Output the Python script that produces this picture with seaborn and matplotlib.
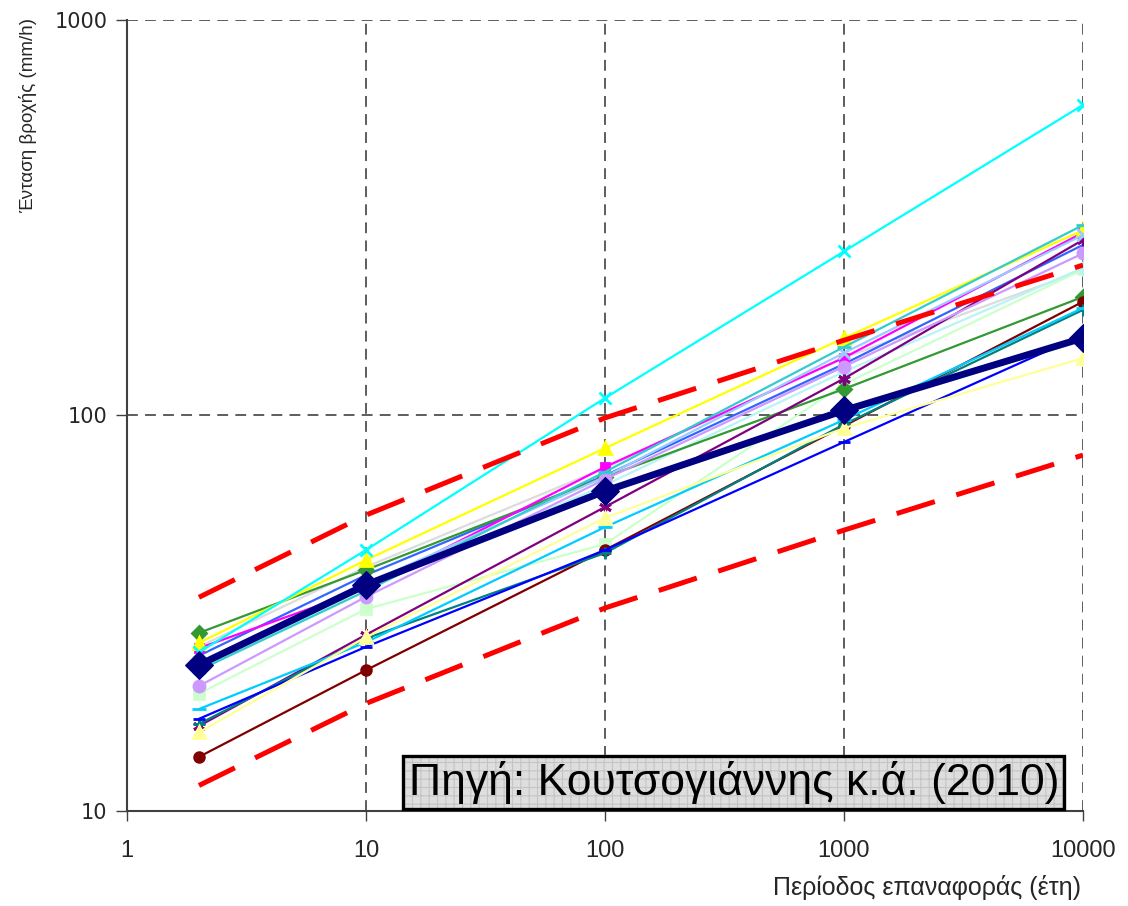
"""Rainfall intensity vs. return period, log-log, with mean and bounds."""

import matplotlib

matplotlib.use("Agg")
import matplotlib.pyplot as plt
import pandas as pd
import seaborn as sns

# Return periods (years) at which each station curve was read
return_periods = [2, 10, 100, 1000, 10000]

# Station curves (mm/h)
st_green = [28.2, 40.7, 69.9, 116.7, 199.5]
st_magenta = [25.8, 36.5, 74.1, 140.0, 290.0]
st_yellow = [26.6, 43.1, 82.7, 157.0, 294.0]
st_cyan = [25.2, 45.7, 110.7, 260.0, 610.0]
st_purple = [16.4, 27.9, 58.7, 124.0, 278.0]
st_maroon = [13.7, 22.7, 45.7, 94.1, 194.0]
st_teal = [16.6, 27.3, 44.9, 95.0, 185.0]
st_blue = [17.1, 26.0, 45.7, 85.7, 160.0]
st_skyblue = [18.1, 26.7, 52.2, 97.5, 187.0]
st_lightcyan = [22.7, 36.6, 66.7, 129.0, 236.0]
st_lightgreen = [19.8, 32.4, 47.3, 120.0, 234.0]
st_lightyellow = [15.8, 27.5, 55.1, 92.9, 139.7]
st_paleblue = [23.0, 37.5, 70.0, 144.0, 286.0]
st_lavender = [20.7, 34.8, 69.0, 133.0, 257.0]
st_aqua = [22.7, 36.0, 72.0, 149.0, 303.0]
st_lightgray = [26.0, 41.4, 73.7, 140.0, 233.0]
st_royalblue = [24.7, 39.5, 70.5, 135.0, 270.0]

# Mean curve and upper / lower bounds
mean_curve = [23.4, 37.3, 64.4, 103.0, 157.0]
upper_bound = [34.7, 56.0, 98.6, 155.0, 240.0]
lower_bound = [11.6, 18.7, 32.6, 51.3, 79.4]

xticks = [1, 10, 100, 1000, 10000]
yticks = [10, 100, 1000]

stations = {
    "green": st_green,
    "magenta": st_magenta,
    "yellow": st_yellow,
    "cyan": st_cyan,
    "purple": st_purple,
    "maroon": st_maroon,
    "teal": st_teal,
    "blue": st_blue,
    "skyblue": st_skyblue,
    "lightcyan": st_lightcyan,
    "lightgreen": st_lightgreen,
    "lightyellow": st_lightyellow,
    "paleblue": st_paleblue,
    "lavender": st_lavender,
    "aqua": st_aqua,
    "lightgray": st_lightgray,
    "royalblue": st_royalblue,
}

# colour, marker, marker size
STYLE = {
    "lightgray": ("#DCDCDC", "P", 6),
    "lightgreen": ("#CCFFCC", "s", 7),
    "lightcyan": ("#B8F4F4", "D", 6),
    "royalblue": ("#3366FF", None, 0),
    "green": ("#339933", "D", 7),
    "magenta": ("#FF00FF", "s", 6),
    "yellow": ("#FFFF00", "^", 8),
    "cyan": ("#00FFFF", "x", 9),
    "purple": ("#800080", (6, 2, 0), 9),
    "maroon": ("#800000", "o", 7),
    "teal": ("#008080", "+", 8),
    "blue": ("#0000FF", "_", 8),
    "skyblue": ("#00CCFF", "_", 10),
    "lightyellow": ("#FFFF99", "^", 8),
    "paleblue": ("#99CCFF", "x", 8),
    "lavender": ("#CC99FF", "o", 8),
    "aqua": ("#33CCCC", "_", 10),
}

rows = []
for name, vals in stations.items():
    for t, v in zip(return_periods, vals):
        rows.append({"station": name, "T": t, "i": v})
df = pd.DataFrame(rows)

sns.set_style("white")
plt.rcParams["font.family"] = ["DejaVu Sans"]
plt.rcParams["hatch.linewidth"] = 0.8
narrow = ["Liberation Sans", "DejaVu Sans"]

fig = plt.figure(figsize=(11.28, 9.06), dpi=100)
ax = fig.add_axes([0.1126, 0.1049, 0.8475, 0.8730])

for name in STYLE:
    color, marker, ms = STYLE[name]
    sub = df[df["station"] == name]
    kw = dict(marker=marker, markersize=ms, markeredgewidth=2) if marker else {}
    sns.lineplot(data=sub, x="T", y="i", ax=ax, color=color, linewidth=1.6,
                 markeredgecolor=color, **kw)

for bound in (upper_bound, lower_bound):
    sns.lineplot(x=return_periods, y=bound, ax=ax, color="#FF0000",
                 linewidth=3.6, dashes=False, zorder=5).lines[-1].set_dashes((8, 4.5))

sns.lineplot(x=return_periods, y=mean_curve, ax=ax, color="#000080",
             linewidth=5, marker="D", markersize=14, markeredgecolor="#000080",
             zorder=6)

ax.set_xscale("log")
ax.set_yscale("log")
ax.set_xlim(1, 10000)
ax.set_ylim(10, 1000)
ax.set_xticks(xticks)
ax.set_xticklabels([str(t) for t in xticks])
ax.set_yticks(yticks)
ax.set_yticklabels([str(t) for t in yticks])
ax.minorticks_off()
ax.tick_params(axis="y", which="major", direction="out", length=8, width=1,
               color="#404040", labelsize=15, pad=6, left=True)
ax.tick_params(axis="x", which="major", direction="out", length=7, width=1,
               color="#404040", pad=14, bottom=True)
for lab in ax.get_xticklabels():
    lab.set_family(narrow)
    lab.set_fontsize(17)

ax.grid(True, which="major", color="#505050", linestyle=(0, (6, 4)), linewidth=1.3)
for s in ("top", "right"):
    ax.spines[s].set_visible(False)
for s in ("left", "bottom"):
    ax.spines[s].set_color("#404040")
    ax.spines[s].set_linewidth(1.5)
ax.set_xlabel("")
ax.set_ylabel("")

fig.text(0.958, 0.02, "Περίοδος επαναφοράς (έτη)", ha="right", va="center",
         fontsize=18, family=narrow)
fig.text(0.025, 0.873, "Ένταση βροχής (mm/h)", ha="center", va="center",
         rotation=90, fontsize=13.5, family=narrow)

# source box: hatched grey fill first, then black frame with the text on top
src = "Πηγή: Κουτσογιάννης κ.ά. (2010)"
for face, edge, lw, hatch, tcol in (("#DEDEDE", "#C4C4C4", 0, "++", "none"),
                                    ("none", "black", 2.4, None, "black")):
    ax.text(0.975, 0.009, src, transform=ax.transAxes, ha="right", va="bottom",
            fontsize=32, family=narrow, color=tcol, zorder=10,
            bbox=dict(boxstyle="square,pad=0.12", facecolor=face,
                      edgecolor=edge, linewidth=lw, hatch=hatch))

fig.savefig("out.png", dpi=100)
